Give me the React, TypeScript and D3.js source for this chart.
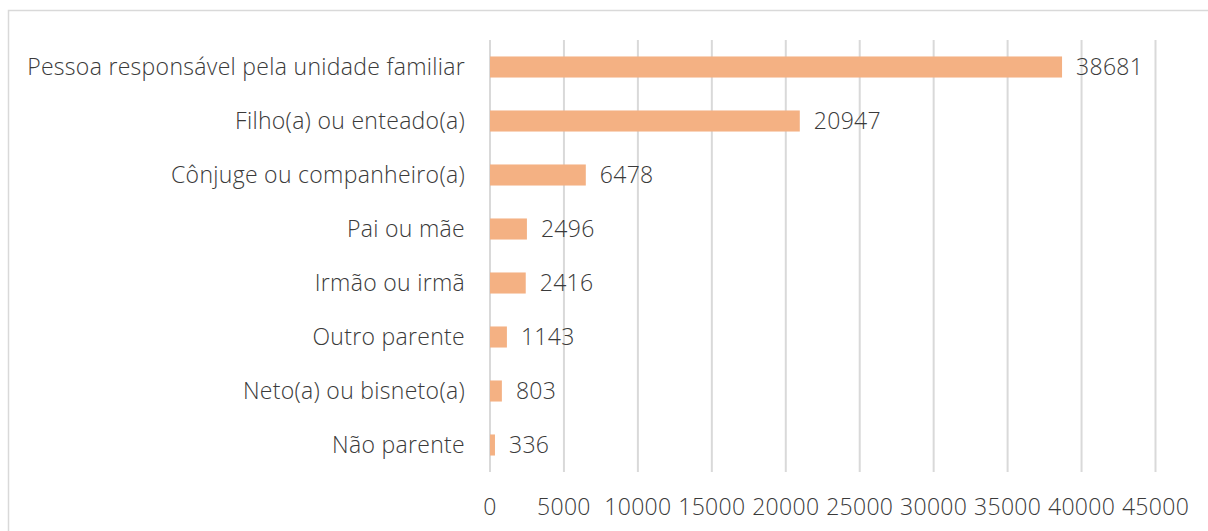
import { useEffect, useRef } from "react";
import * as d3 from "d3";

const categories = [
  "Pessoa responsável pela unidade familiar",
  "Filho(a) ou enteado(a)",
  "Cônjuge ou companheiro(a)",
  "Pai ou mãe",
  "Irmão ou irmã",
  "Outro parente",
  "Neto(a) ou bisneto(a)",
  "Não parente",
];
const values = [38681, 20947, 6478, 2496, 2416, 1143, 803, 336];
const ticks = [0, 5000, 10000, 15000, 20000, 25000, 30000, 35000, 40000, 45000];

const App = () => {
  const svgRef = useRef(null);

  useEffect(() => {
    const w = 1208;
    const h = 531;
    const svg = d3.select(svgRef.current).attr("width", w).attr("height", h);
    svg.selectAll("*").remove();

    const font = "'Open Sans', sans-serif";
    const textColor = "#3a3a3a";
    const fs = 23;
    const ls = 0.3;

    // chart border
    svg
      .append("rect")
      .attr("x", 8.5)
      .attr("y", 10.5)
      .attr("width", 1210)
      .attr("height", 540)
      .attr("fill", "white")
      .attr("stroke", "#d9d9d9")
      .attr("stroke-width", 1.5);

    const xScale = d3.scaleLinear().domain([0, 45000]).range([490, 1155.5]);
    const yScale = d3
      .scaleBand()
      .domain(categories)
      .range([40, 472])
      .paddingInner(0.61)
      .paddingOuter(0.305);

    svg
      .append("g")
      .selectAll("line")
      .data(ticks)
      .join("line")
      .attr("x1", (d) => xScale(d))
      .attr("x2", (d) => xScale(d))
      .attr("y1", 40)
      .attr("y2", 472)
      .attr("stroke", "#d9d9d9")
      .attr("stroke-width", 2);

    svg
      .append("g")
      .selectAll("text")
      .data(ticks)
      .join("text")
      .attr("x", (d) => xScale(d))
      .attr("y", 507)
      .attr("dy", "0.35em")
      .attr("text-anchor", "middle")
      .attr("font-family", font)
      .attr("font-weight", 300)
      .attr("font-size", fs)
      .attr("letter-spacing", ls)
      .attr("fill", textColor)
      .text((d) => d.toString());

    svg
      .append("g")
      .selectAll("rect")
      .data(values)
      .join("rect")
      .attr("x", xScale(0))
      .attr("y", (d, i) => yScale(categories[i]) || 0)
      .attr("width", (d) => xScale(d) - xScale(0))
      .attr("height", yScale.bandwidth())
      .attr("fill", "#f4b183");

    svg
      .append("g")
      .selectAll("text")
      .data(values)
      .join("text")
      .attr("x", (d) => xScale(d) + 14)
      .attr("y", (d, i) => (yScale(categories[i]) || 0) + yScale.bandwidth() / 2)
      .attr("dy", "0.35em")
      .attr("font-family", font)
      .attr("font-weight", 300)
      .attr("font-size", fs)
      .attr("letter-spacing", ls)
      .attr("fill", textColor)
      .text((d) => d.toString());

    svg
      .append("g")
      .selectAll("text")
      .data(categories)
      .join("text")
      .attr("x", 465)
      .attr("y", (d) => (yScale(d) || 0) + yScale.bandwidth() / 2)
      .attr("dy", "0.35em")
      .attr("text-anchor", "end")
      .attr("font-family", font)
      .attr("font-weight", 300)
      .attr("font-size", fs)
      .attr("letter-spacing", ls)
      .attr("fill", textColor)
      .text((d) => d);
  }, []);

  return (
    <div style={{ position: "absolute", left: 0, top: 0 }}>
      <svg ref={svgRef} style={{ display: "block" }} />
    </div>
  );
};

export default App;
